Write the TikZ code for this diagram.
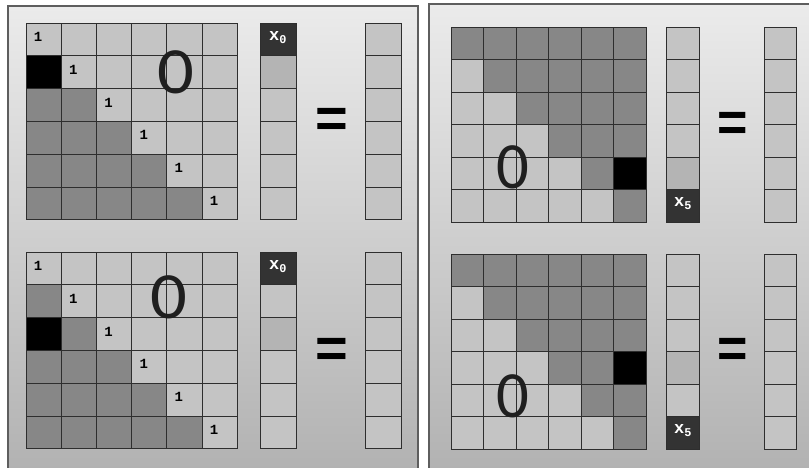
\documentclass[tikz,border=0pt]{standalone}
\usepackage{fontspec}
\setmainfont{Carlito}
\setmonofont{Liberation Mono}
\newfontfamily\eqfont{Liberation Sans}
\usetikzlibrary{positioning}

\definecolor{panelTop}{HTML}{EBEBEB}
\definecolor{panelBot}{HTML}{B2B2B2}
\definecolor{panelLine}{HTML}{5E5E5E}
\definecolor{cellLine}{HTML}{2E2E2E}
\definecolor{cellLight}{HTML}{C4C4C4}
\definecolor{cellMid}{HTML}{B4B4B4}
\definecolor{cellDark}{HTML}{878787}
\definecolor{cellLabel}{HTML}{333333}

\begin{document}
\begin{tikzpicture}[
    x=1pt,
    y=-1pt,
    panel/.style={top color=panelTop, bottom color=panelBot},
    panelline/.style={draw=panelLine, line width=1.6pt},
    cell/.style={
        rectangle,
        draw=cellLine,
        line width=0.9pt,
        inner sep=0pt,
        outer sep=0pt,
        minimum width=35.2pt,
        minimum height=32.8pt
    },
    cell-l/.style={fill=cellLight},
    cell-m/.style={fill=cellMid},
    cell-g/.style={fill=cellDark},
    cell-k/.style={fill=black},
    cell-x/.style={fill=cellLabel},
    cell-1/.style={fill=cellLight, label={[onetxt]center:1}},
    onetxt/.style={
        font=\ttfamily\bfseries\fontsize{14}{14}\selectfont,
        inner sep=0pt,
        xshift=-5.5pt,
        yshift=2.5pt
    },
    xtxt/.style={
        font=\ttfamily\bfseries\fontsize{17}{17}\selectfont,
        text=white,
        inner sep=0pt,
        yshift=2pt
    },
    zero/.style={font=\fontsize{66}{66}\selectfont, text=black!88, inner sep=0pt},
    eqsign/.style={font=\eqfont\bfseries\fontsize{56}{56}\selectfont, inner sep=0pt}
]

\useasboundingbox (0,0) rectangle (809,468);
\clip (0,0) rectangle (809,468);
\fill[white] (0,0) rectangle (809,468);

% Panels
\shade[panel] (8,6) rectangle (418,470);
\draw[panelline] (8,470) -- (8,6) -- (418,6) -- (418,470);
\shade[panel] (429,4) rectangle (812,470);
\draw[panelline] (429,470) -- (429,4) -- (812,4);

% Top left: first column pivot
\foreach \row [count=\r] in {{1,l,l,l,l,l},{k,1,l,l,l,l},{g,g,1,l,l,l},
                             {g,g,g,1,l,l},{g,g,g,g,1,l},{g,g,g,g,g,1}} {
    \foreach \v [count=\c] in \row {
        \node[cell, cell-\v] (tl-\r-\c) at ({26+(\c-0.5)*35.2}, {23+(\r-0.5)*32.8}) {};
    }
}
\foreach \v [count=\r] in {x,m,l,l,l,l} {
    \node[cell, cell-\v, minimum width=36pt] (tl-x\r) at (278, {23+(\r-0.5)*32.8}) {};
    \node[cell, cell-l] (tl-b\r) at (383.5, {23+(\r-0.5)*32.8}) {};
}
\node[xtxt] (tl-xlab) at (tl-x1) {x\textsubscript{0}};
\node[zero, xscale=1.1] (tl-zero) at (176, 72) {0};
\node[eqsign] (tl-eq) at (332, 123) {=};

% Bottom left
\foreach \row [count=\r] in {{1,l,l,l,l,l},{g,1,l,l,l,l},{k,g,1,l,l,l},
                             {g,g,g,1,l,l},{g,g,g,g,1,l},{g,g,g,g,g,1}} {
    \foreach \v [count=\c] in \row {
        \node[cell, cell-\v] (bl-\r-\c) at ({26+(\c-0.5)*35.2}, {252+(\r-0.5)*32.8}) {};
    }
}
\foreach \v [count=\r] in {x,l,m,l,l,l} {
    \node[cell, cell-\v, minimum width=36pt] (bl-x\r) at (278, {252+(\r-0.5)*32.8}) {};
    \node[cell, cell-l] (bl-b\r) at (383.5, {252+(\r-0.5)*32.8}) {};
}
\node[xtxt] (bl-xlab) at (bl-x1) {x\textsubscript{0}};
\node[zero, xscale=1.1] (bl-zero) at (169, 297) {0};
\node[eqsign] (bl-eq) at (332, 353) {=};

\begin{scope}[cell/.append style={minimum width=32.5pt, minimum height=32.5pt}]

% Top right: last column pivot
\foreach \row [count=\r] in {{g,g,g,g,g,g},{l,g,g,g,g,g},{l,l,g,g,g,g},
                             {l,l,l,g,g,g},{l,l,l,l,g,k},{l,l,l,l,l,g}} {
    \foreach \v [count=\c] in \row {
        \node[cell, cell-\v] (tr-\r-\c) at ({451+(\c-0.5)*32.5}, {27+(\r-0.5)*32.5}) {};
    }
}
\foreach \v [count=\r] in {l,l,l,l,m,x} {
    \node[cell, cell-\v] (tr-x\r) at (683, {27+(\r-0.5)*32.5}) {};
    \node[cell, cell-l] (tr-b\r) at (780.5, {27+(\r-0.5)*32.5}) {};
}
\node[xtxt] (tr-xlab) at (tr-x6) {x\textsubscript{5}};
\node[zero, xscale=0.98] (tr-zero) at (513, 167) {0};
\node[eqsign, xscale=0.93] (tr-eq) at (733, 127) {=};

% Bottom right
\foreach \row [count=\r] in {{g,g,g,g,g,g},{l,g,g,g,g,g},{l,l,g,g,g,g},
                             {l,l,l,g,g,k},{l,l,l,l,g,g},{l,l,l,l,l,g}} {
    \foreach \v [count=\c] in \row {
        \node[cell, cell-\v] (br-\r-\c) at ({451+(\c-0.5)*32.5}, {254+(\r-0.5)*32.5}) {};
    }
}
\foreach \v [count=\r] in {l,l,l,m,l,x} {
    \node[cell, cell-\v] (br-x\r) at (683, {254+(\r-0.5)*32.5}) {};
    \node[cell, cell-l] (br-b\r) at (780.5, {254+(\r-0.5)*32.5}) {};
}
\node[xtxt] (br-xlab) at (br-x6) {x\textsubscript{5}};
\node[zero, xscale=0.98] (br-zero) at (513, 396) {0};
\node[eqsign, xscale=0.93] (br-eq) at (733, 353) {=};

\end{scope}

\end{tikzpicture}
\end{document}
